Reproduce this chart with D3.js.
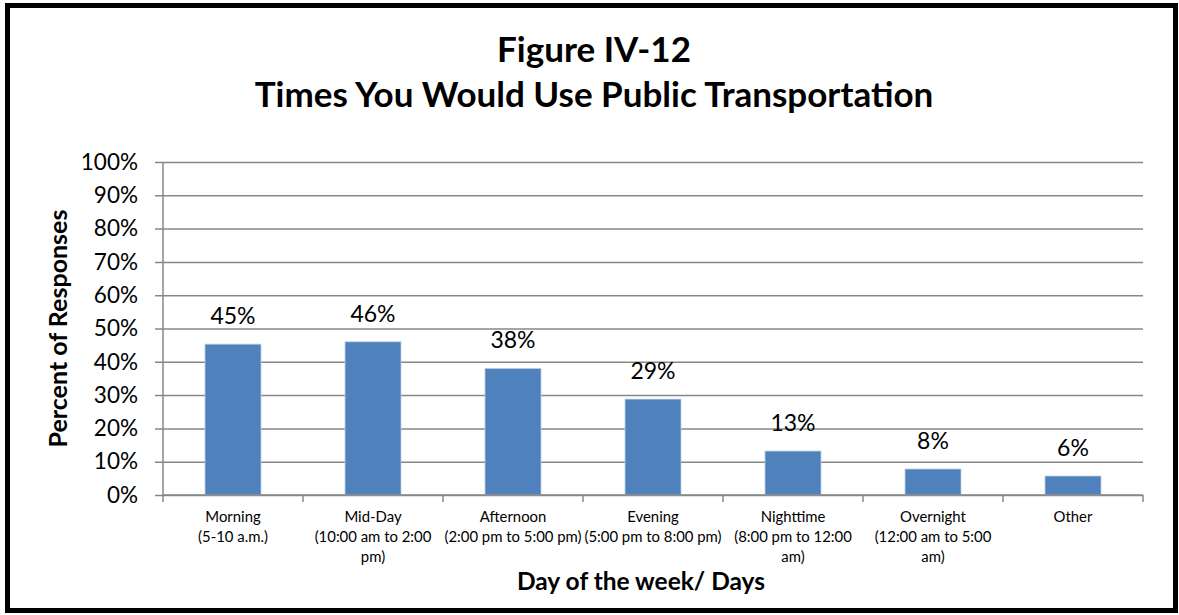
<!DOCTYPE html>
<html>
<head>
<meta charset="utf-8">
<script src="https://cdn.jsdelivr.net/npm/d3@7"></script>
<style>
  html, body { margin: 0; padding: 0; background: #fff; }
  svg { display: block; }
  text { font-family: Lato, "Open Sans", sans-serif; fill: #000; }
</style>
</head>
<body>
<svg id="chart" width="1179" height="615"></svg>
<script>
// Survey results: share of respondents per time period
const categories = [
  ["Morning", "(5-10 a.m.)"],
  ["Mid-Day", "(10:00 am to 2:00", "pm)"],
  ["Afternoon", "(2:00 pm to 5:00 pm)"],
  ["Evening", "(5:00 pm to 8:00 pm)"],
  ["Nighttime", "(8:00 pm to 12:00", "am)"],
  ["Overnight", "(12:00 am to 5:00", "am)"],
  ["Other"]
];
const values = [0.453, 0.46, 0.38, 0.288, 0.132, 0.078, 0.057];
const yTicks = [0, 0.1, 0.2, 0.3, 0.4, 0.5, 0.6, 0.7, 0.8, 0.9, 1.0];
const titleLines = ["Figure IV-12", "Times You Would Use Public Transportation"];
const yTitle = "Percent of Responses";
const xTitle = "Day of the week/ Days";

const svg = d3.select("#chart");
const plot = { left: 163, right: 1143, top: 162, bottom: 495 };

// outer frame
svg.append("rect")
  .attr("x", 7.5).attr("y", 5.5)
  .attr("width", 1168).attr("height", 605)
  .attr("fill", "#fff").attr("stroke", "#000").attr("stroke-width", 5);

const keys = categories.map((c, i) => i);
const x = d3.scaleBand().domain(keys).range([plot.left, plot.right]).paddingInner(0.6).paddingOuter(0.3);
const xEdge = d3.scaleLinear().domain([0, categories.length]).range([plot.left, plot.right]);
const y = d3.scaleLinear().domain([0, 1]).range([plot.bottom, plot.top]);
const pct = d3.format(".0%");

// horizontal gridlines and y axis
const yAxis = d3.axisLeft(y).tickValues(yTicks).tickFormat(pct)
  .tickSize(-(plot.right - plot.left)).tickPadding(25);
const gy = svg.append("g").attr("transform", `translate(${plot.left},0)`).call(yAxis);
gy.select(".domain").remove();
gy.selectAll(".tick line").attr("stroke", "#878787").attr("stroke-width", 1.5)
  .attr("x1", -8);
gy.selectAll(".tick text").attr("font-size", 22.5).attr("fill", "#000")
  .style("font-family", "Lato, sans-serif");
svg.append("line")
  .attr("x1", plot.left).attr("x2", plot.left)
  .attr("y1", plot.top).attr("y2", plot.bottom)
  .attr("stroke", "#878787").attr("stroke-width", 1.5);

// bars
svg.append("g").selectAll("rect").data(values).join("rect")
  .attr("x", (d, i) => x(i))
  .attr("y", d => y(d))
  .attr("width", x.bandwidth())
  .attr("height", d => y(0) - y(d))
  .attr("fill", "#4F81BD")
  .attr("stroke", "#B9CDE5").attr("stroke-width", 0.8);

// x axis baseline with category boundary ticks
const gx = svg.append("g").attr("transform", `translate(0,${plot.bottom})`);
gx.append("line").attr("x1", plot.left).attr("x2", plot.right)
  .attr("stroke", "#878787").attr("stroke-width", 1.5);
gx.selectAll("line.tk").data(d3.range(categories.length + 1)).join("line")
  .attr("class", "tk")
  .attr("x1", d => xEdge(d)).attr("x2", d => xEdge(d))
  .attr("y1", 0).attr("y2", 7)
  .attr("stroke", "#878787").attr("stroke-width", 1.5);

// category labels
const lab = svg.append("g").selectAll("text").data(categories).join("text")
  .attr("text-anchor", "middle")
  .attr("font-size", 14.9);
lab.each(function(lines, i) {
  const t = d3.select(this);
  lines.forEach((s, j) => {
    t.append("tspan").attr("x", x(i) + x.bandwidth() / 2)
      .attr("y", 522 + j * 20).text(s);
  });
});

// value labels
svg.append("g").selectAll("text").data(values).join("text")
  .attr("x", (d, i) => x(i) + x.bandwidth() / 2)
  .attr("y", d => y(d) - 20)
  .attr("text-anchor", "middle")
  .attr("font-size", 23)
  .text(d => pct(d));

// titles
svg.append("text").attr("x", 594).attr("y", 62).attr("text-anchor", "middle")
  .attr("font-size", 35).attr("font-weight", "bold").text(titleLines[0]);
svg.append("text").attr("x", 594).attr("y", 107).attr("text-anchor", "middle")
  .attr("font-size", 35).attr("font-weight", "bold").text(titleLines[1]);

svg.append("text")
  .attr("transform", `translate(67,${(plot.top + plot.bottom) / 2}) rotate(-90)`)
  .attr("text-anchor", "middle").attr("font-size", 25).attr("font-weight", "bold")
  .text(yTitle);

svg.append("text").attr("x", 641).attr("y", 590)
  .attr("text-anchor", "middle").attr("font-size", 24.5).attr("font-weight", "bold")
  .text(xTitle);
</script>
</body>
</html>
